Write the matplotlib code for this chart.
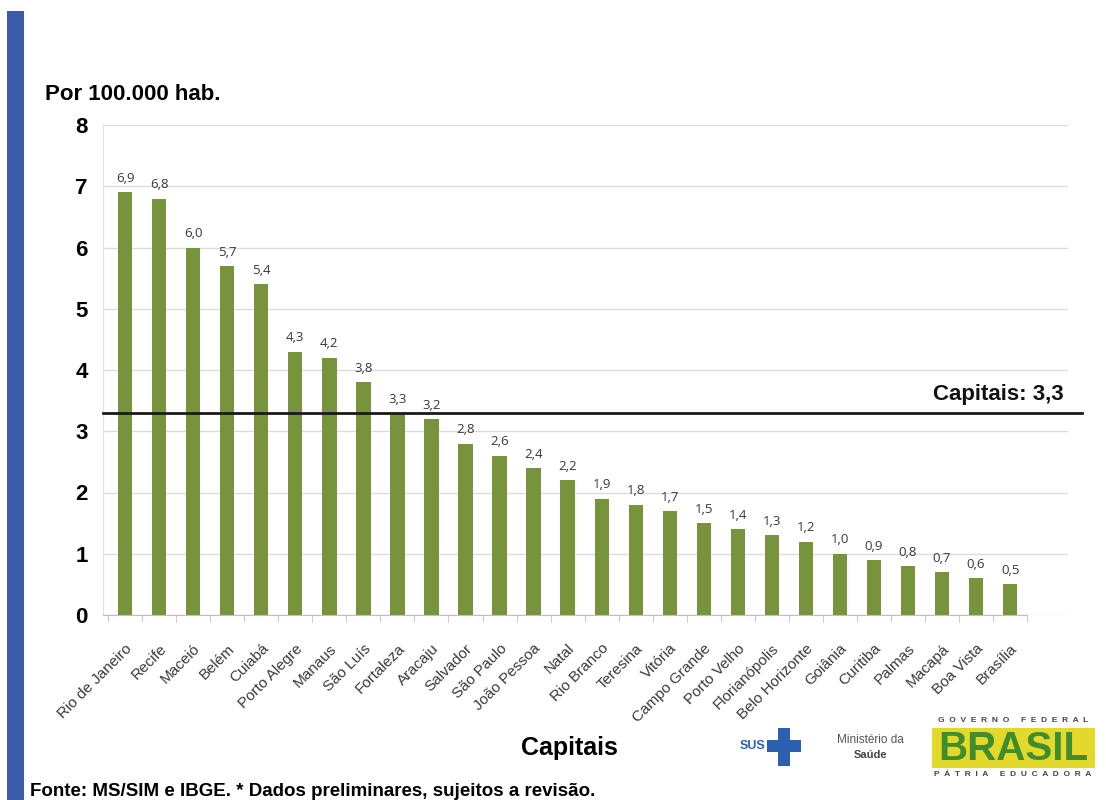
import matplotlib
matplotlib.use("Agg")
from matplotlib import pyplot as plt
from matplotlib.patches import Rectangle

cities = [
    "Rio de Janeiro", "Recife", "Maceió", "Belém", "Cuiabá", "Porto Alegre",
    "Manaus", "São Luís", "Fortaleza", "Aracaju", "Salvador", "São Paulo",
    "João Pessoa", "Natal", "Rio Branco", "Teresina", "Vitória",
    "Campo Grande", "Porto Velho", "Florianópolis", "Belo Horizonte",
    "Goiânia", "Curitiba", "Palmas", "Macapá", "Boa Vista", "Brasília",
]
rates = [
    6.9, 6.8, 6.0, 5.7, 5.4, 4.3, 4.2, 3.8, 3.3, 3.2, 2.8, 2.6, 2.4, 2.2,
    1.9, 1.8, 1.7, 1.5, 1.4, 1.3, 1.2, 1.0, 0.9, 0.8, 0.7, 0.6, 0.5,
]
capitals_mean = 3.3
yticks = [0, 1, 2, 3, 4, 5, 6, 7, 8]

W, H = 1106, 800
plt.rcParams["font.family"] = ["Liberation Sans", "DejaVu Sans"]

fig = plt.figure(figsize=(W / 100, H / 100), dpi=100)
fig.patch.set_facecolor("white")


def fbox(x0, y0, x1, y1, **kw):
    # rectangle in figure pixel coords (y from top)
    fig.add_artist(Rectangle((x0 / W, 1 - y1 / H), (x1 - x0) / W, (y1 - y0) / H,
                             transform=fig.transFigure, **kw))


def ftext(x, y, s, **kw):
    fig.text(x / W, 1 - y / H, s, **kw)


# blue side band
fbox(7, 11, 24, 800, color="#3b5aa9", lw=0)

ax = fig.add_axes([103 / W, 1 - 615 / H, 965 / W, 490 / H])
pos = list(range(len(cities)))
ax.bar(pos, rates, width=0.42, color="#77933c", zorder=2)
for x, v in zip(pos, rates):
    ax.text(x, v + 0.12, "{0:.1f}".format(v).replace(".", ","), ha="center",
            va="bottom", fontsize=9.5, color="#383838", family=["Open Sans", "DejaVu Sans"])

ax.set_ylim(0, 8)
ax.set_xlim(-0.65, 27.7)
ax.set_yticks(yticks)
ax.set_yticklabels([str(t) for t in yticks], fontsize=16, fontweight="bold")
ax.tick_params(axis="y", length=0, pad=11)
ax.yaxis.grid(True, color="#dcdcdc", lw=1, zorder=0)
ax.set_xticks(pos)
ax.set_xticklabels(cities, rotation=45, ha="right", rotation_mode="anchor",
                   fontsize=11, color="#3a3a3a")
ax.tick_params(axis="x", length=0, pad=19)
ax.set_xticks([p - 0.5 for p in pos] + [len(pos) - 0.5], minor=True)
ax.tick_params(axis="x", which="minor", length=5, color="#bfbfbf")
for s in ["top", "right"]:
    ax.spines[s].set_visible(False)
ax.spines["left"].set_color("#e2e2e2")
ax.spines["bottom"].set_color("#bfbfbf")
ax.spines["bottom"].set_bounds(-0.65, len(pos) - 0.5)

ax.axhline(capitals_mean, xmin=0, xmax=1.015, color="#1a1a1a", lw=2,
           clip_on=False, zorder=3)
ax.text(0.995, capitals_mean + 0.13, "Capitais: " + str(capitals_mean).replace(".", ","),
        transform=ax.get_yaxis_transform(), ha="right", va="bottom",
        fontsize=16, fontweight="bold", color="#111111")

ftext(45, 95, "Por 100.000 hab.", fontsize=16, fontweight="bold", va="center")
ftext(569, 748, "Capitais", fontsize=18, fontweight="bold", ha="center", va="center")
ftext(30, 791, "Fonte: MS/SIM e IBGE. * Dados preliminares, sujeitos a revisão.",
      fontsize=13.5, fontweight="bold", va="center")

# SUS logo
ftext(753, 746, "SUS", fontsize=9, fontweight="bold", color="#2d5fb0",
      ha="center", va="center")
fbox(778, 728, 790, 766, color="#2d5fb0", lw=0)
fbox(767, 740, 801, 752, color="#2d5fb0", lw=0)

# Ministério da Saúde
ftext(870, 740, "Ministério da", fontsize=8.5, color="#555555", ha="center", va="center")
ftext(870, 755, "Saúde", fontsize=8, fontweight="bold", color="#444444",
      ha="center", va="center")

# Governo Federal
fbox(932, 728, 1095, 768, color="#e3d92a", lw=0)
ftext(1013, 720, "G  O  V  E  R  N  O     F  E  D  E  R  A  L", fontsize=6,
      fontweight="bold", color="#444444", ha="center", va="center")
ftext(1013, 749, "BRASIL", fontsize=29, fontweight="bold", color="#3f8d2f",
      ha="center", va="center")
ftext(1013, 774, "P  Á  T  R  I  A     E  D  U  C  A  D  O  R  A", fontsize=6,
      fontweight="bold", color="#444444", ha="center", va="center")

plt.savefig("out.png", dpi=100)
